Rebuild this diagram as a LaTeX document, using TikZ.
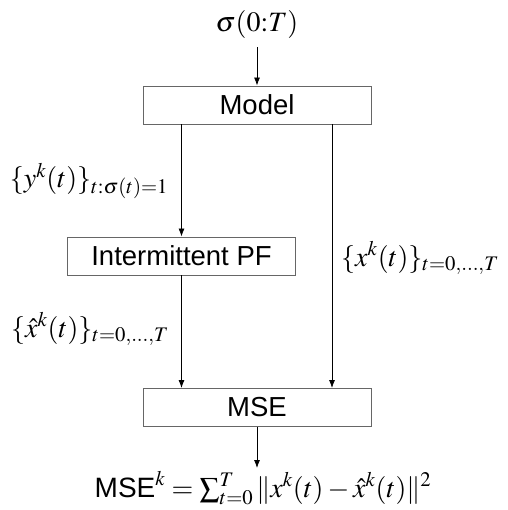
\documentclass[tikz,border=0pt]{standalone}
\usepackage{amsmath}
\usepackage{mathptmx}
\usepackage{fontspec}
\setsansfont{Liberation Sans}
\usepackage{tikz}
\usetikzlibrary{arrows.meta,positioning,calc}

\begin{document}
\begin{tikzpicture}[
  x=1pt, y=1pt,
  box/.style={draw=black!60, line width=0.9pt, minimum width=228pt, minimum height=38pt,
    inner sep=0pt, font=\fontsize{27.5}{32}\selectfont\sffamily},
  lbl/.style={font=\fontsize{28}{33}\selectfont, inner sep=0pt},
  arr/.style={-{Latex[length=8pt,width=6pt]}, line width=0.8pt}
]
\useasboundingbox (0,0) rectangle (507,510);

\node[lbl] (sigma) at (257,485) {$\sigma(0{:}T)$};
\node[box] (model) at (257,405) {Model};
\node[box] (pf) at (181.5,254) {Intermittent PF};
\node[box] (mse) at (257,102.5) {MSE};
\node[lbl] (result) at (263,22) {$\textsf{MSE}^k=\sum_{t=0}^{T}\|x^k(t)-\hat{x}^k(t)\|^2$};

\node[lbl] (ylab) at (89,329) {$\{y^k(t)\}_{t:\sigma(t)=1}$};
\node[lbl, anchor=west] (xlab) at (341,252) {$\{x^k(t)\}_{t=0,\ldots,T}$};
\node[lbl] (xhatlab) at (90,181) {$\{\hat{x}^k(t)\}_{t=0,\ldots,T}$};

\coordinate (rx) at (332,0);

\draw[arr] (sigma.south) ++(0,-8) -- (model.north);
\draw[arr] (pf.north |- model.south) -- (pf.north);
\draw[arr] (pf.south) -- (pf.south |- mse.north);
\draw[arr] (model.south -| rx) -- (mse.north -| rx);
\draw[arr] (mse.south) -- ($(mse.south |- result.north)+(0,3)$);
\end{tikzpicture}
\end{document}
